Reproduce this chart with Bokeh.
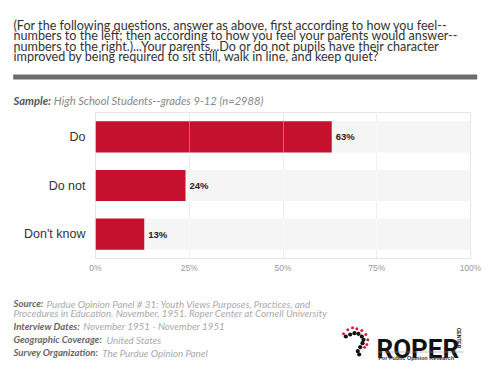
import math
from bokeh.plotting import figure
from bokeh.models import Range1d, FactorRange, FixedTicker, Grid
from bokeh.layouts import column
from bokeh.core.properties import value
from bokeh.embed import file_html
from bokeh.resources import INLINE

# ---- data ----
categories = ["Do", "Do not", "Don't know"]
percents = [63, 24, 13]
tick_values = [0, 25, 50, 75, 100]
tick_labels = ["0%", "25%", "50%", "75%", "100%"]

title_lines = [
    "(For the following questions, answer as above, first according to how you feel--",
    "numbers to the left; then according to how you feel your parents would answer--",
    "numbers to the right.)...Your parents...Do or do not pupils have their character",
    "improved by being required to sit still, walk in line, and keep quiet?",
]
sample_label = "Sample:"
sample_text = "High School Students--grades 9-12 (n=2988)"
footer_labels = ["Source:", "", "Interview Dates:", "Geographic Coverage:", "Survey Organization:"]
footer_texts = [
    "Purdue Opinion Panel # 31: Youth Views Purposes, Practices, and",
    "Procedures in Education. November, 1951. Roper Center at Cornell University",
    "November 1951 - November 1951",
    "United States",
    "The Purdue Opinion Panel",
]

# logo decoration (pixel positions in footer panel)
logo_black_x = [345.3, 349.7, 354.0, 358.0, 361.3, 363.0, 362.0, 359.7, 357.3, 358.7]
logo_black_y = [58.0, 56.0, 54.7, 55.3, 58.0, 61.3, 64.7, 68.7, 72.7, 76.0]
logo_red_x = [343.0, 347.3, 352.0, 356.3, 361.3, 365.3, 367.3, 366.3, 364.0]
logo_red_y = [55.3, 51.3, 49.3, 50.3, 52.0, 56.0, 61.3, 66.0, 68.7]

W = 481
BAR_COLOR = "#C5112E"


def blank(h):
    f = figure(width=W, height=h, x_range=Range1d(0, W), y_range=Range1d(h, 0),
               min_border=0, toolbar_location=None, output_backend="svg",
               x_axis_type=None, y_axis_type=None)
    f.outline_line_color = None
    f.grid.visible = False
    f.background_fill_color = "white"
    f.border_fill_color = "white"
    f.frame_align = False
    return f


# ---- header ----
top = blank(110)
top.text(x=[13] * len(title_lines), y=[24.5, 35.0, 45.5, 55.7], text=title_lines,
         text_font=value("Lato"), text_font_size="12.6px", text_color="#333333",
         text_baseline="alphabetic", text_align="left")
top.quad(left=[12.7], right=[476.7], top=[74], bottom=[79], fill_color="#6d6d6d", line_color=None)
top.text(x=[13], y=[100], text=[sample_label], text_font=value("Lato"), text_font_size="11.2px",
         text_font_style="bold italic", text_color="#555555", text_baseline="alphabetic")
top.text(x=[53.3], y=[100], text=[sample_text], text_font=value("Lato"), text_font_size="11.2px",
         text_font_style="italic", text_color="#888888", text_baseline="alphabetic")

# ---- main chart ----
p = figure(width=W, height=168, y_range=FactorRange(factors=categories[::-1]),
           x_range=Range1d(0, 100), min_border_left=95, min_border_right=11,
           min_border_top=2, min_border_bottom=20,
           toolbar_location=None, output_backend="svg")
p.frame_align = False
p.background_fill_color = "white"
p.border_fill_color = "white"
p.outline_line_color = "#e6e6e6"

p.hbar(y=categories, left=0, right=100, height=0.64, fill_color="#f5f5f5", line_color=None)
p.hbar(y=categories, left=0, right=percents, height=0.64, fill_color=BAR_COLOR, line_color=None)
p.text(x=percents, y=categories, text=[f"{v}%" for v in percents], x_offset=4,
       text_baseline="middle", text_align="left", text_font=value("Liberation Sans"),
       text_font_size="9.5px", text_font_style="bold", text_color="#222222")

p.xaxis.ticker = FixedTicker(ticks=tick_values)
p.xaxis.major_label_overrides = dict(zip(tick_values, tick_labels))
p.xaxis.axis_line_color = None
p.xaxis.major_tick_line_color = None
p.xaxis.minor_tick_line_color = None
p.xaxis.major_tick_out = 0
p.xaxis.major_tick_in = 0
p.xaxis.major_label_standoff = 4
p.xaxis.major_label_text_font = "Liberation Sans"
p.xaxis.major_label_text_font_size = "8.5px"
p.xaxis.major_label_text_color = "#999999"

p.yaxis.axis_line_color = None
p.yaxis.major_tick_line_color = None
p.yaxis.major_tick_out = 0
p.yaxis.major_tick_in = 0
p.yaxis.major_label_standoff = 10
p.yaxis.major_label_text_font = "Liberation Sans"
p.yaxis.major_label_text_font_size = "12.5px"
p.yaxis.major_label_text_color = "#333333"

p.xgrid.ticker = FixedTicker(ticks=tick_values)
p.xgrid.grid_line_color = "#e6e6e6"
p.ygrid.grid_line_color = None
p.add_layout(Grid(dimension=0, ticker=FixedTicker(ticks=tick_values[1:-1]), level="overlay",
                  grid_line_color="white", grid_line_alpha=0.35))

# ---- footer ----
bot = blank(85)
base_y = [25, 34, 47.5, 61, 74]
rest_x = [46, 13, 82.7, 106, 101.7]
for lab, txt, y, rx in zip(footer_labels, footer_texts, base_y, rest_x):
    if lab:
        bot.text(x=[13], y=[y], text=[lab], text_font=value("Lato"), text_font_size="9.6px",
                 text_font_style="bold italic", text_color="#666666", text_baseline="alphabetic")
    bot.text(x=[rx], y=[y], text=[txt], text_font=value("Lato"), text_font_size="9.8px",
             text_font_style="italic", text_color="#aaaaaa", text_baseline="alphabetic")

bot.scatter(x=logo_red_x, y=logo_red_y, size=3, fill_color="#d4213d", line_color=None)
bot.scatter(x=logo_black_x, y=logo_black_y, size=4.2, fill_color="#111111", line_color=None)
bot.text(x=[376], y=[70], text=["ROPER"], text_font=value("Roboto"),
         text_font_size="26px", text_font_style="bold", text_color="#111111",
         text_baseline="alphabetic")
bot.text(x=[458], y=[59.5], text=["CENTER"], angle=-math.pi / 2, text_font=value("Liberation Sans"),
         text_font_size="5px", text_font_style="bold", text_color="#111111",
         text_baseline="middle", text_align="center")
bot.segment(x0=[377], y0=[73.5], x1=[463], y1=[73.5], line_color="#999999", line_width=0.6)
bot.text(x=[378], y=[79.5], text=["For Public Opinion Research"], text_font=value("Liberation Sans"),
         text_font_size="5.5px", text_font_style="bold", text_color="#333333",
         text_baseline="alphabetic")

layout = column(top, p, bot, spacing=0)
open("out.html", "w").write(file_html(layout, INLINE))
